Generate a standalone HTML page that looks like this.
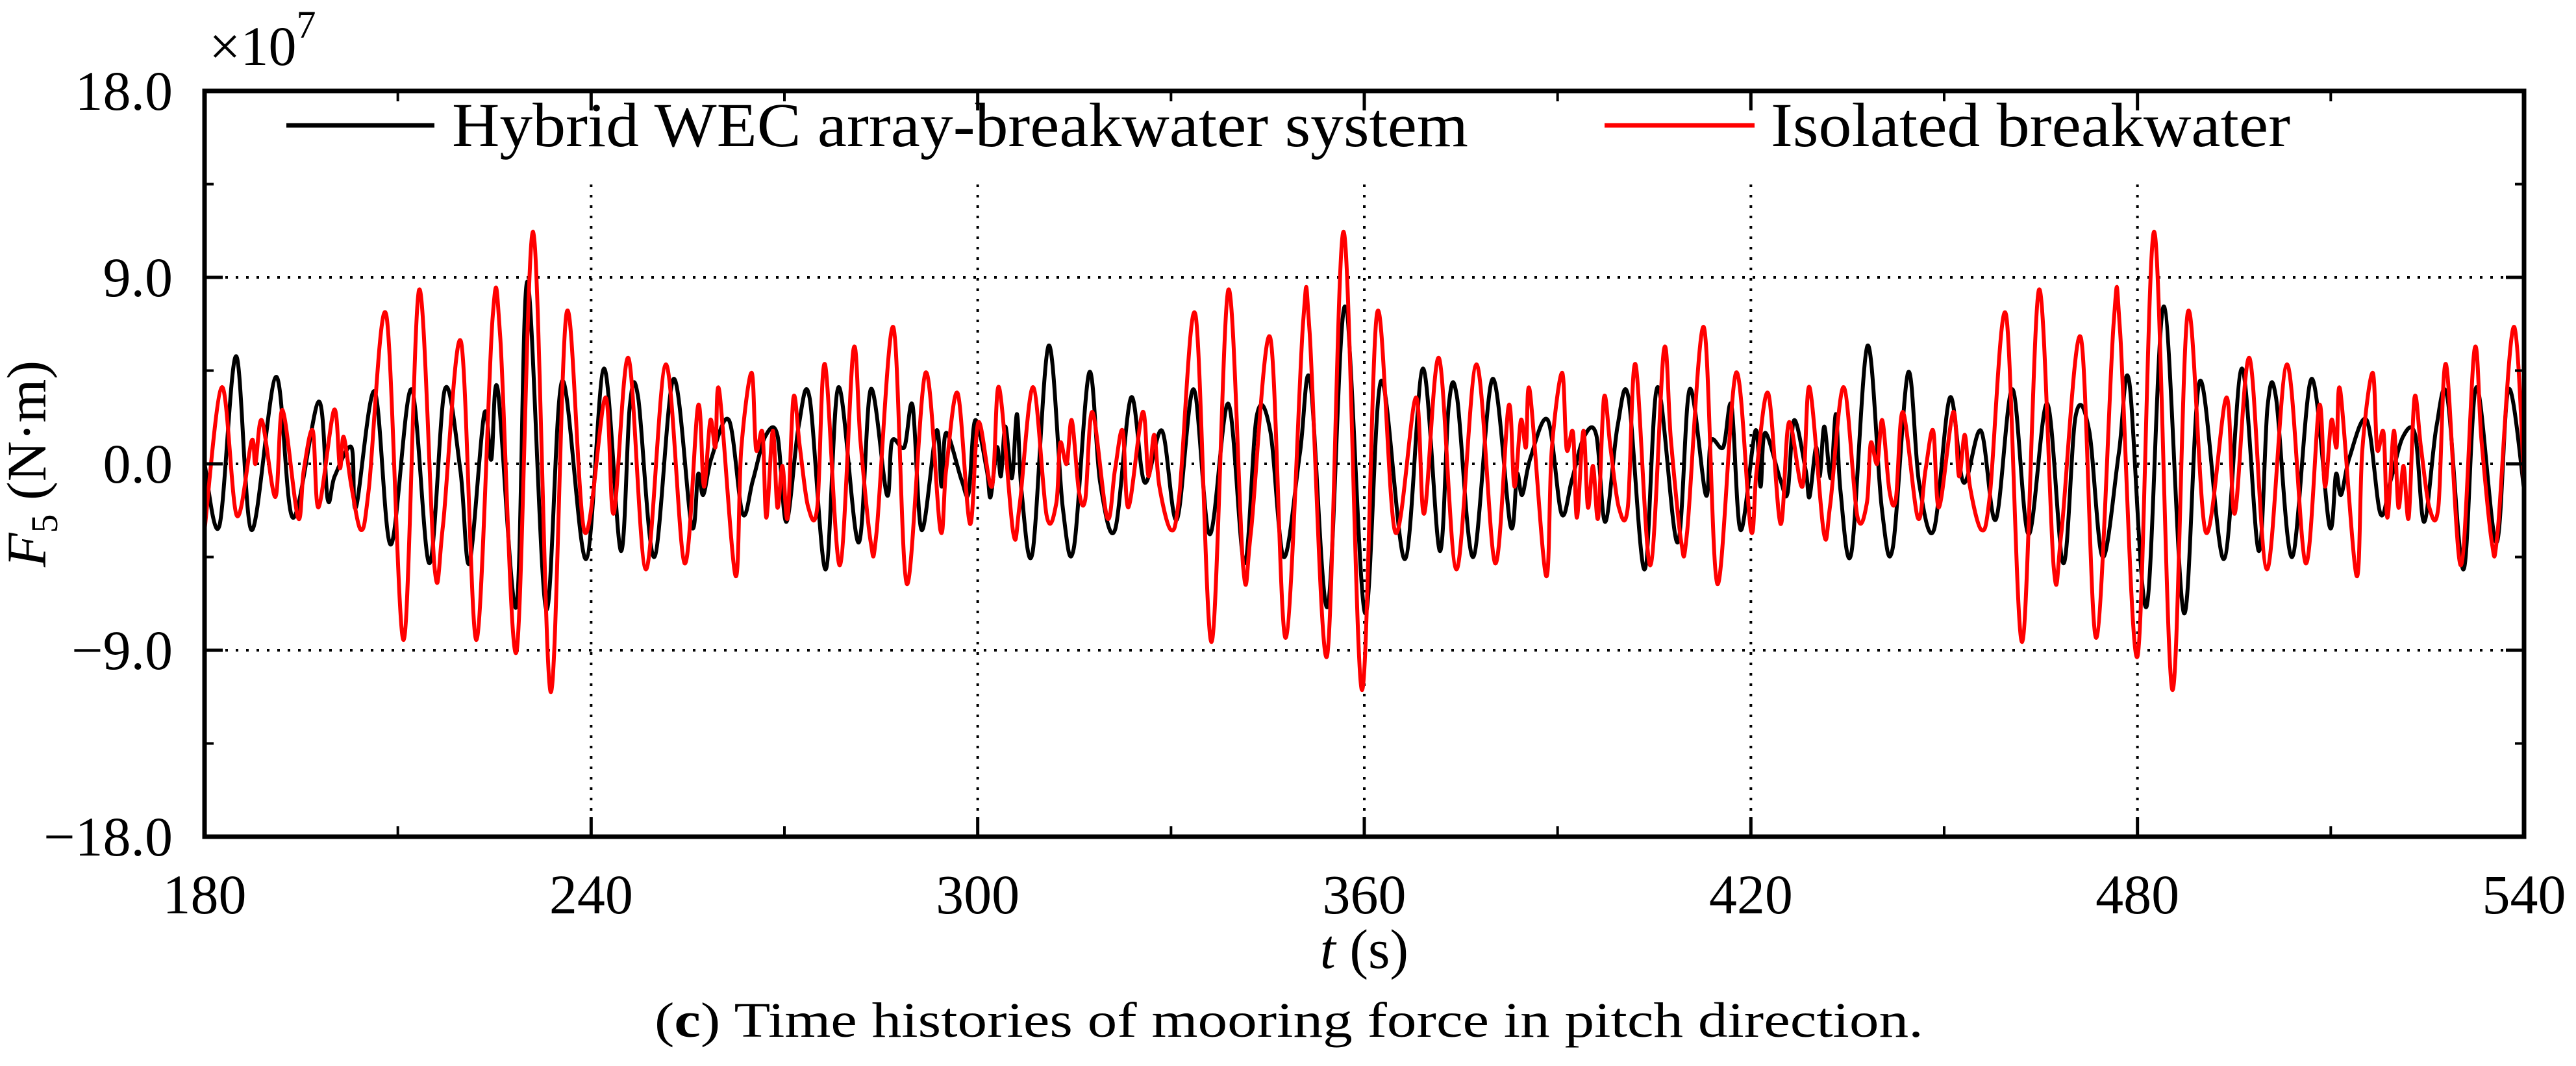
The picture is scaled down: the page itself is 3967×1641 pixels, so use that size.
<!DOCTYPE html>
<html><head><meta charset="utf-8"><style>
html,body{margin:0;padding:0;background:#fff;}
svg{display:block;font-family:"Liberation Serif","Times New Roman",serif;}
</style></head><body>
<svg id="chart" width="3967" height="1641" viewBox="0 0 3967 1641" xmlns="http://www.w3.org/2000/svg">
<defs><clipPath id="plotclip"><rect x="318" y="143" width="3566" height="1142"/></clipPath></defs>
<rect x="0" y="0" width="3967" height="1641" fill="#fff"/>
<g id="grid"></g>
<g id="series" clip-path="url(#plotclip)"></g>
<rect x="330" y="146" width="3540" height="126" fill="#fff"/>
<g>
 <line x1="441" y1="193" x2="669" y2="193" stroke="#000" stroke-width="7"/>
 <text x="696" y="225" font-size="96" textLength="1565" lengthAdjust="spacingAndGlyphs">Hybrid WEC array-breakwater system</text>
 <line x1="2471" y1="193" x2="2702" y2="193" stroke="#ff0000" stroke-width="7"/>
 <text x="2727" y="225" font-size="96" textLength="800" lengthAdjust="spacingAndGlyphs">Isolated breakwater</text>
</g>
<g id="axes"></g>
<text x="322" y="100" font-size="86">×10<tspan dy="-42" font-size="60">7</tspan></text>
<text transform="translate(70,714) rotate(-90)" text-anchor="middle" font-size="86"><tspan font-style="italic">F</tspan><tspan font-size="58" dy="18">5</tspan><tspan dy="-18"> (N·m)</tspan></text>
<text x="2101" y="1490" text-anchor="middle" font-size="86"><tspan font-style="italic">t</tspan> (s)</text>
<text x="1008" y="1596" font-size="76" textLength="1954" lengthAdjust="spacingAndGlyphs">(<tspan font-weight="bold">c</tspan>) Time histories of mooring force in pitch direction.</text>
</svg>
<script>
const xTicks=[180,240,300,360,420,480,540];
const xMinor=[210,270,330,390,450,510];
const yTicks=[-18,-9,0,9,18];
const yTickLabels=["\u221218.0","\u22129.0","0.0","9.0","18.0"];
const yMinor=[-13.5,-4.5,4.5,13.5];
const gridX=[240,300,360,420,480];
const gridY=[-9,0,9];
const hybridT=[180,182.3,184.9,187.3,191.1,193.7,197.7,199.1,200.2,202.8,203.5,206.4,208.9,212.1,214.9,217.3,219.7,221.1,223.4,224.5,225.5,228.4,230.1,233.0,235.5,239.2,242.0,244.6,246.0,247.3,249.8,252.8,255.6,256.6,257.4,258.7,261.4,263.5,265.1,267.0,268.9,270.3,272.2,273.9,276.4,278.4,281.5,283.4,285.9,286.7,288.6,289.9,291.3,293.6,294.4,295.1,297.5,298.6,299.6,301.4,302.0,303.0,303.6,304.3,305.3,306.1,306.8,308.5,311.0,313.2,314.9,317.3,319.0,321.3,323.8,325.9,328.6,330.9,333.5,336.0,338.9,341.4,343.3,345.4,347.5,350.0,351.6,354.3,357.0,360.1,362.6,366.3,369.1,371.7,373.1,374.4,376.9,379.9,382.7,383.7,384.5,385.8,388.5,390.6,392.2,394.1,396.0,397.4,399.3,401.0,403.5,405.5,408.6,410.5,413.0,413.8,415.7,417.0,418.4,420.7,421.5,422.2,424.6,425.7,426.7,428.5,429.1,430.1,430.7,431.4,432.4,433.2,433.9,435.6,438.1,440.3,442.0,444.4,446.1,448.4,450.9,453.0,455.7,458.0,460.6,463.1,466.0,468.5,470.4,472.5,474.6,477.1,478.7,481.4,484.1,487.2,489.7,493.4,496.2,498.8,500.2,501.5,504.0,507.0,509.8,510.8,511.6,512.9,515.6,517.7,519.3,521.2,523.1,524.5,526.4,528.1,530.6,532.6,535.7,537.6,540.1];
const hybridV=[0,-3.0,5.2,-3.2,4.2,-2.6,3.0,-1.7,-0.6,0.8,-2.1,3.5,-3.9,3.6,-4.8,3.6,-0.3,-4.8,2.4,0.2,3.6,-6.9,8.8,-7.0,4.0,-4.6,4.6,-4.2,2.8,3.2,-4.5,4.1,-3.0,-0.5,-1.5,0.3,2.1,-2.4,-0.8,1.3,1.4,-2.8,1.8,3.2,-5.1,3.7,-3.8,3.6,-1.5,1.1,0.8,2.8,-3.2,1.6,-1.1,1.5,-0.8,-1.4,2.1,-0.3,-1.6,0.8,-0.6,1.8,-0.7,2.4,-1.3,-4.3,5.7,-2.1,-4.1,4.4,-0.9,-3.2,3.2,-0.9,1.6,-2.7,3.6,-3.4,2.9,-4.8,2.3,1.6,-4.5,0.5,4.0,-6.9,7.6,-7.2,4.0,-4.6,4.6,-4.2,2.8,3.2,-4.5,4.1,-3.0,-0.5,-1.5,0.3,2.1,-2.4,-0.8,1.3,1.4,-2.8,1.8,3.2,-5.1,3.7,-3.8,3.6,-1.5,1.1,0.8,2.8,-3.2,1.6,-1.1,1.5,-0.8,-1.4,2.1,-0.3,-1.6,0.8,-0.6,1.8,-0.7,2.4,-1.3,-4.3,5.7,-2.1,-4.1,4.4,-0.9,-3.2,3.2,-0.9,1.6,-2.7,3.6,-3.4,2.9,-4.8,2.3,1.6,-4.5,0.5,4.0,-6.9,7.6,-7.2,4.0,-4.6,4.6,-4.2,2.8,3.2,-4.5,4.1,-3.0,-0.5,-1.5,0.3,2.1,-2.4,-0.8,1.3,1.4,-2.8,1.8,3.2,-5.1,3.7,-3.8,3.6,-1.5];
const isolatedT=[180,182.7,185.0,187.3,187.9,188.9,191.0,192.1,194.5,195.4,196.8,197.7,200.1,201.0,201.6,202.8,204.3,205.5,208.2,210.9,213.3,215.7,217.0,219.8,222.2,224.7,225.9,228.4,231.0,233.7,236.2,239.0,242.2,243.5,245.8,248.5,251.6,254.5,256.6,257.5,258.5,259.3,259.9,262.4,263.3,264.9,265.6,266.6,267.2,268.2,268.9,269.7,270.5,271.4,272.4,273.7,275.1,276.3,278.6,280.7,281.8,283.4,284.3,286.9,289.0,291.9,294.2,295.1,296.9,298.8,300.1,302.2,303.3,305.5,306.5,308.6,310.7,312.2,312.8,313.8,314.6,315.7,316.7,317.8,320.1,321.3,322.5,323.4,325.6,326.5,327.4,328.2,330.0,331.3,333.8,336.3,338.9,341.2,342.4,345.4,347.8,350.5,351.5,354.2,356.8,359.6,362.0,364.8,368.0,369.3,371.6,374.3,377.4,380.3,382.4,383.3,384.3,385.1,385.7,388.2,389.1,390.7,391.4,392.4,393.0,394.0,394.7,395.5,396.3,397.2,398.2,399.5,400.9,402.1,404.4,406.5,407.6,409.2,410.1,412.7,414.8,417.7,420.0,420.9,422.7,424.6,425.9,428.0,429.1,431.3,432.3,434.4,436.5,438.0,438.6,439.6,440.4,441.5,442.5,443.6,445.9,447.1,448.3,449.2,451.4,452.3,453.2,454.0,455.8,457.1,459.6,462.1,464.7,467.0,468.2,471.2,473.6,476.3,477.3,480.0,482.6,485.4,487.8,490.6,493.8,495.1,497.4,500.1,503.2,506.1,508.2,509.1,510.1,510.9,511.5,514.0,514.9,516.5,517.2,518.2,518.8,519.8,520.5,521.3,522.1,523.0,524.0,525.3,526.7,527.9,530.2,532.3,533.4,535.0,535.9,538.5,540.6];
const isolatedV=[-3.2,3.7,-2.5,1.1,0,2.1,-1.6,2.6,-2.6,-0.3,1.6,-2.1,2.6,-0.2,1.3,-1.1,-3.2,-1.2,7.2,-8.5,8.4,-5.0,-3.0,5.9,-8.5,7.0,6.1,-9.1,11.2,-11.0,7.3,-3.3,3.2,-2.4,5.1,-5.1,4.8,-4.8,2.8,-1.1,2.1,0.8,3.5,-5.4,0.7,4.4,0.7,1.5,-2.6,1.6,-2.1,-0.1,-2.6,3.2,0.8,-2.1,-2.1,4.8,-4.9,5.5,1.1,-3.8,-3.3,6.6,-5.8,4.4,-3.2,-0.3,3.4,-2.9,2.0,-1.1,3.7,-3.3,-2.0,3.7,-2.5,-1.9,1.0,0,2.1,-1.3,-1.7,2.5,-2.6,-0.3,1.6,-2.1,2.5,-0.6,1.4,-1.1,-3.2,-1.5,7.2,-8.6,8.4,-5.0,-3.3,6.1,-8.4,6.8,6.4,-9.3,11.2,-10.9,7.3,-3.3,3.2,-2.4,5.1,-5.1,4.8,-4.8,2.8,-1.1,2.1,0.8,3.5,-5.4,0.7,4.4,0.7,1.5,-2.6,1.6,-2.1,-0.1,-2.6,3.2,0.8,-2.1,-2.1,4.8,-4.9,5.5,1.1,-3.8,-3.3,6.6,-5.8,4.4,-3.2,-0.3,3.4,-2.9,2.0,-1.1,3.7,-3.3,-2.0,3.7,-2.5,-1.9,1.0,0,2.1,-1.3,-1.7,2.5,-2.6,-0.3,1.6,-2.1,2.5,-0.6,1.4,-1.1,-3.2,-1.5,7.2,-8.6,8.4,-5.0,-3.3,6.1,-8.4,6.8,6.4,-9.3,11.2,-10.9,7.3,-3.3,3.2,-2.4,5.1,-5.1,4.8,-4.8,2.8,-1.1,2.1,0.8,3.5,-5.4,0.7,4.4,0.7,1.5,-2.6,1.6,-2.1,-0.1,-2.6,3.2,0.8,-2.1,-2.1,4.8,-4.9,5.5,1.1,-3.8,-3.3,6.6,-5.8];

const X0=315,X1=3887,Y0=1288,Y1=140;
const T0=180,T1=540,V0=-18,V1=18;
function xs(t){return X0+(t-T0)/(T1-T0)*(X1-X0);}
function ys(v){return Y0-(v-V0)/(V1-V0)*(Y0-Y1);}
const NS="http://www.w3.org/2000/svg";
function mk(tag,attrs,parent){const e=document.createElementNS(NS,tag);for(const k in attrs)e.setAttribute(k,attrs[k]);parent.appendChild(e);return e;}
const grid=document.getElementById('grid');
gridX.forEach(t=>{
  const l=mk('line',{x1:xs(t),y1:Y1,x2:xs(t),y2:Y0,stroke:'#000','stroke-width':4,'stroke-dasharray':'4 12'},grid);
  
  
});
gridY.forEach(v=>{
  const l=mk('line',{x1:X0,y1:ys(v),x2:X1,y2:ys(v),stroke:'#000','stroke-width':4,'stroke-dasharray':'4 12'},grid);
  
  
});
function pathFor(T,V){
  const P=T.map((t,i)=>[xs(t),ys(V[i])]);
  let d='M'+P[0][0].toFixed(1)+','+P[0][1].toFixed(1);
  for(let i=0;i<P.length-1;i++){
    const p0=P[Math.max(0,i-1)],p1=P[i],p2=P[i+1],p3=P[Math.min(P.length-1,i+2)];
    const c1x=p1[0]+(p2[0]-p0[0])/6,c1y=p1[1]+(p2[1]-p0[1])/6;
    const c2x=p2[0]-(p3[0]-p1[0])/6,c2y=p2[1]-(p3[1]-p1[1])/6;
    d+='C'+c1x.toFixed(1)+','+c1y.toFixed(1)+' '+c2x.toFixed(1)+','+c2y.toFixed(1)+' '+p2[0].toFixed(1)+','+p2[1].toFixed(1);
  }
  return d;
}
const series=document.getElementById('series');
const pb=mk('path',{d:pathFor(hybridT,hybridV),fill:'none',stroke:'#000','stroke-width':6,'stroke-linejoin':'round'},series);


const pr=mk('path',{d:pathFor(isolatedT,isolatedV),fill:'none',stroke:'#ff0000','stroke-width':6,'stroke-linejoin':'round'},series);



const axes=document.getElementById('axes');
const frame=mk('rect',{x:X0,y:Y1,width:X1-X0,height:Y0-Y1,fill:'none',stroke:'#000','stroke-width':7},axes);


xTicks.forEach(t=>{
  const x=xs(t);
  mk('line',{x1:x,y1:Y0,x2:x,y2:Y0-30,stroke:'#000','stroke-width':5},axes);
  mk('line',{x1:x,y1:Y1,x2:x,y2:Y1+30,stroke:'#000','stroke-width':5},axes);
  const lb=mk('text',{x:x,y:1406,'text-anchor':'middle','font-size':86},axes);
  lb.textContent=String(t);
  
  
});
xMinor.forEach(t=>{
  const x=xs(t);
  mk('line',{x1:x,y1:Y0,x2:x,y2:Y0-16,stroke:'#000','stroke-width':4},axes);
  mk('line',{x1:x,y1:Y1,x2:x,y2:Y1+16,stroke:'#000','stroke-width':4},axes);
});
yTicks.forEach((v,i)=>{
  const y=ys(v);
  mk('line',{x1:X0,y1:y,x2:X0+28,y2:y,stroke:'#000','stroke-width':5},axes);
  mk('line',{x1:X1,y1:y,x2:X1-28,y2:y,stroke:'#000','stroke-width':5},axes);
  const lb=mk('text',{x:266,y:y+29,'text-anchor':'end','font-size':86},axes);
  lb.textContent=yTickLabels[i];
  
  
});
yMinor.forEach(v=>{
  const y=ys(v);
  mk('line',{x1:X0,y1:y,x2:X0+14,y2:y,stroke:'#000','stroke-width':4},axes);
  mk('line',{x1:X1,y1:y,x2:X1-14,y2:y,stroke:'#000','stroke-width':4},axes);
});
</script>
</body></html>
